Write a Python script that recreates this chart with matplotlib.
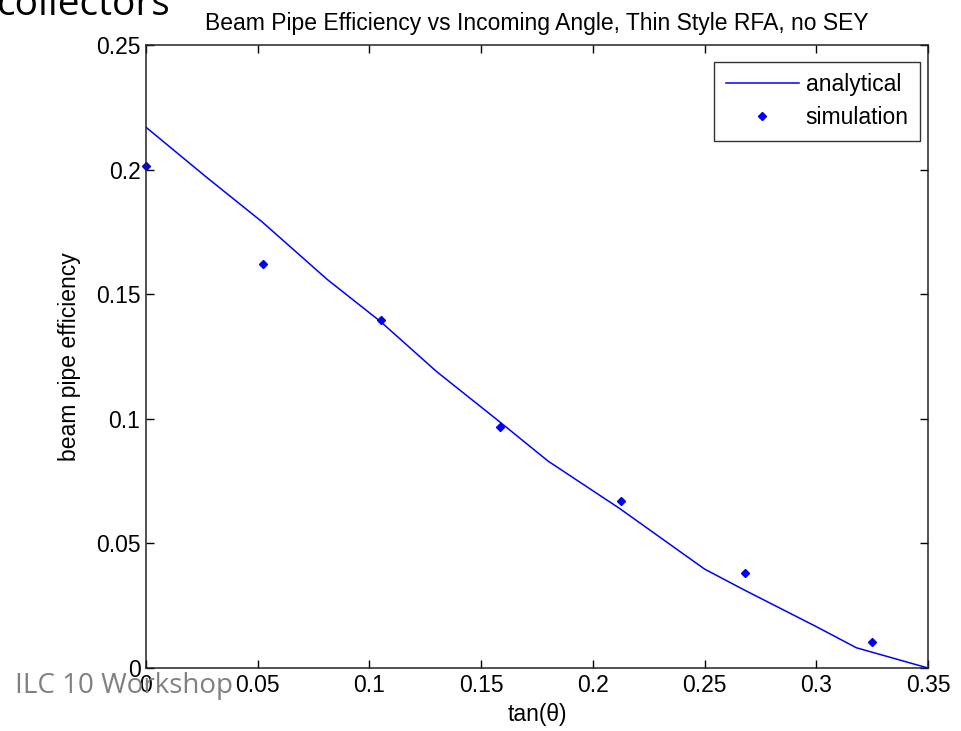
import numpy as np
import matplotlib
matplotlib.use("Agg")
import matplotlib.pyplot as plt

# analytical curve
x_analytical = [0.0, 0.027, 0.052, 0.081, 0.105, 0.13, 0.158, 0.18, 0.212, 0.25, 0.268, 0.3, 0.318, 0.35]
y_analytical = [0.217, 0.197, 0.179, 0.156, 0.139, 0.119, 0.099, 0.083, 0.064, 0.0397, 0.0312, 0.0166, 0.0081, 0.0]

# simulation points
x_simulation = [0.0, 0.0524, 0.1051, 0.1584, 0.2126, 0.2679, 0.3249]
y_simulation = [0.2015, 0.1621, 0.1397, 0.0967, 0.067, 0.0381, 0.0104]

x_ticks = [0, 0.05, 0.1, 0.15, 0.2, 0.25, 0.3, 0.35]
x_tick_labels = ["0", "0.05", "0.1", "0.15", "0.2", "0.25", "0.3", "0.35"]
y_ticks = [0, 0.05, 0.1, 0.15, 0.2, 0.25]
y_tick_labels = ["0", "0.05", "0.1", "0.15", "0.2", "0.25"]

plt.rcParams["font.family"] = ["Liberation Sans", "DejaVu Sans"]
fs = 16.5

fig = plt.figure(figsize=(9.61, 7.31), dpi=100)
ax = fig.add_axes([146 / 961, 1 - 668 / 731, (928 - 146) / 961, (668 - 45) / 731])

ax.plot(x_analytical, y_analytical, color="#0000ff", lw=1.1, label="analytical")
ax.plot(x_simulation, y_simulation, ls="none", marker="D", ms=4.5, color="#0000ff",
        label="simulation", clip_on=False)

ax.set_xlim(0, 0.35)
ax.set_ylim(0, 0.25)
ax.set_xticks(x_ticks)
ax.set_xticklabels(x_tick_labels)
ax.set_yticks(y_ticks)
ax.set_yticklabels(y_tick_labels)
ax.tick_params(direction="in", length=6, width=1, top=True, right=True,
               labelsize=fs, pad=4, colors="black")
for s in ax.spines.values():
    s.set_linewidth(1.1)
    s.set_color("#222222")

ax.set_title("Beam Pipe Efficiency vs Incoming Angle, Thin Style RFA, no SEY",
             fontsize=fs, pad=11)
ax.set_xlabel("tan(\u03b8)", fontsize=fs, labelpad=5)
ax.set_ylabel("beam pipe efficiency", fontsize=fs, labelpad=11)

# legend box: right edge ~920 px, top ~62 px
leg = ax.legend(loc="upper right", bbox_to_anchor=((920 - 146) / 782, 1 - (62 - 45) / 623),
                borderaxespad=0, fontsize=fs, frameon=True, fancybox=False,
                handlelength=3.2, handletextpad=0.28, borderpad=0.5,
                labelspacing=0.42)
leg.get_frame().set_edgecolor("black")
leg.get_frame().set_linewidth(1.0)

# slide overlay text
fig.text(-3 / 961, 1 - 15 / 731, "collectors", fontsize=28, color="black",
         family=["Open Sans", "DejaVu Sans"], ha="left", va="baseline")
fig.text(15 / 961, 1 - 693 / 731, "ILC 10 Workshop", fontsize=20, color="#808080",
         family=["Open Sans", "DejaVu Sans"], ha="left", va="baseline")

fig.savefig("out.png", dpi=100)
